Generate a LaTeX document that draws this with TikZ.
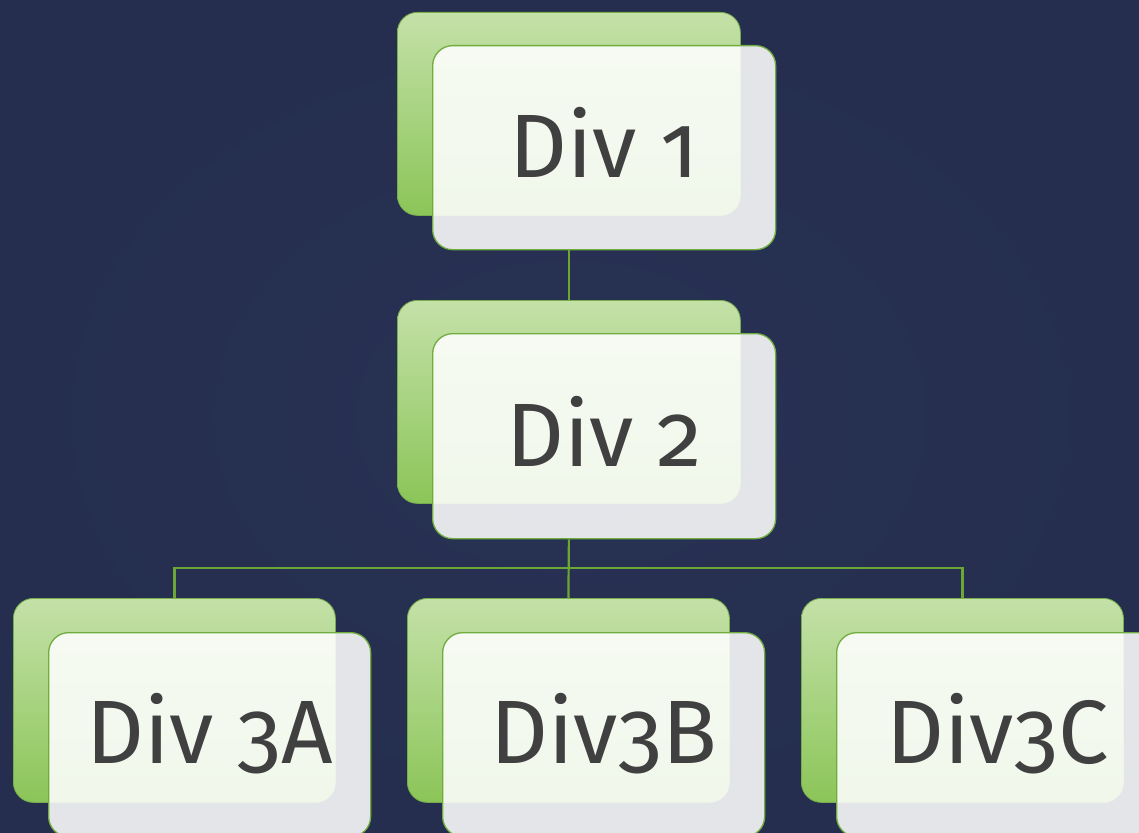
\documentclass[tikz,border=0pt]{standalone}
\usepackage{fontspec}
\setmainfont{Fira Sans}[Numbers=OldStyle]
\usetikzlibrary{calc}
\definecolor{bgnavy}{RGB}{37,46,78}
\definecolor{bginner}{RGB}{40,50,84}
\definecolor{greentop}{RGB}{196,225,168}
\definecolor{greenbot}{RGB}{139,197,88}
\definecolor{greenedge}{RGB}{120,172,76}
\definecolor{frontedge}{RGB}{112,172,62}
\definecolor{connc}{RGB}{108,166,52}
\definecolor{txtc}{RGB}{64,64,64}
\tikzset{
  backbox/.style={rectangle, rounded corners=20pt, inner sep=0pt, anchor=north west,
    top color=greentop, bottom color=greenbot, draw=greenedge, line width=0.8pt},
  frontbox/.style={rectangle, rounded corners=20pt, inner sep=0pt, anchor=north west,
    fill=white, fill opacity=0.88, draw=frontedge, draw opacity=1, line width=1.3pt},
  lbl/.style={anchor=base, inner sep=0pt, text=txtc, font=\fontsize{90}{104}\selectfont},
  conn/.style={draw=connc, line width=2.2pt},
}
\begin{document}
\begin{tikzpicture}[x=1pt,y=-1pt]
\useasboundingbox (0,0) rectangle (1139,832);
\clip (0,0) rectangle (1139,832);
\shade[inner color=bginner, outer color=bgnavy] (0,0) rectangle (1139,832);
% level 1
\node[backbox, minimum width=343pt, minimum height=203pt] (back1) at (397,12) {};
\node[frontbox, minimum width=343pt, minimum height=204pt] (front1) at (432,45) {};
\node[lbl] (t1) at ($(front1.center)+(0,30)$) {Div 1};
% level 2
\node[backbox, minimum width=343pt, minimum height=203pt] (back2) at (397,300) {};
\node[frontbox, minimum width=343pt, minimum height=205pt] (front2) at (432,333) {};
\node[lbl] (t2) at ($(front2.center)+(0,30)$) {Div 2};
% level 3
\node[backbox, minimum width=322pt, minimum height=204pt] (back3a) at (13,598) {};
\node[frontbox, minimum width=322pt, minimum height=204pt] (front3a) at (48,632) {};
\node[lbl] (t3a) at ($(front3a.center)+(0,29)$) {Div 3A};
\node[backbox, minimum width=322pt, minimum height=204pt] (back3b) at (407,598) {};
\node[frontbox, minimum width=322pt, minimum height=204pt] (front3b) at (442,632) {};
\node[lbl] (t3b) at ($(front3b.center)+(0,29)$) {Div3B};
\node[backbox, minimum width=322pt, minimum height=204pt] (back3c) at (801,598) {};
\node[frontbox, minimum width=322pt, minimum height=204pt] (front3c) at (836,632) {};
\node[lbl] (t3c) at ($(front3c.center)+(0,29)$) {Div3C};
% connectors
\draw[conn] (back1 |- front1.south) -- (back2.north);
\coordinate (hub) at (568,568);
\draw[conn] (back2 |- front2.south) -- (back3b.north);
\draw[conn] (hub) -| (back3a.north);
\draw[conn] (hub) -| (back3c.north);
\end{tikzpicture}
\end{document}
